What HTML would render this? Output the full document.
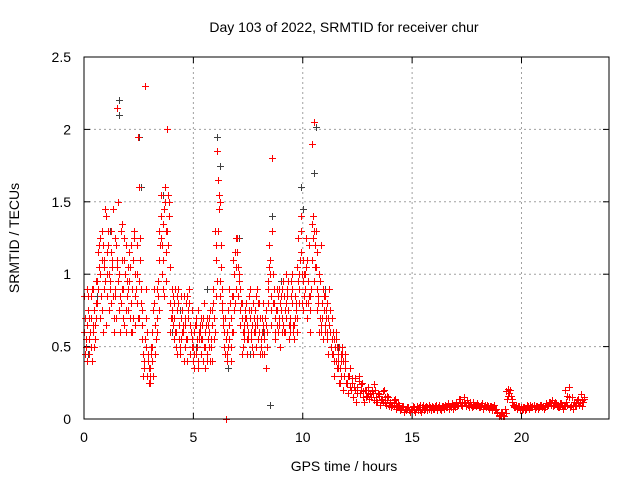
<!DOCTYPE html>
<html><head><meta charset="utf-8"><style>
body{margin:0;background:#fff;}
svg{display:block;font-family:"Liberation Sans",sans-serif;}
</style></head><body>
<svg id="chart" width="640" height="480" viewBox="0 0 640 480" xmlns="http://www.w3.org/2000/svg">
<rect width="640" height="480" fill="#fff"/>
<text x="344" y="32" font-size="14" text-anchor="middle">Day 103 of 2022, SRMTID for receiver chur</text>
<text x="344" y="471" font-size="14" text-anchor="middle">GPS time / hours</text>
<text transform="translate(19,238) rotate(-90)" font-size="14" text-anchor="middle">SRMTID / TECUs</text>
<g id="grid"></g>
<g id="ticks"></g>
<g id="black"></g>
<g id="red"></g>
<rect x="84" y="57" width="525" height="362" fill="none" stroke="#000" stroke-width="1"/>
</svg>
<script>
const xTicks=[0,5,10,15,20];
const yTicks=[0,0.5,1,1.5,2,2.5];
const yTickLabels=["0","0.5","1","1.5","2","2.5"];
const hours=[0.0,0.1,0.2,0.3,0.4,0.5,0.6,0.7,0.8,0.9,1.0,1.1,1.2,1.3,1.4,1.5,1.6,1.7,1.8,1.9,2.0,2.1,2.2,2.3,2.4,2.5,2.6,2.7,2.8,2.9,3.0,3.1,3.2,3.3,3.4,3.5,3.6,3.7,3.8,3.9,4.0,4.1,4.2,4.3,4.4,4.5,4.6,4.7,4.8,4.9,5.0,5.1,5.2,5.3,5.4,5.5,5.6,5.7,5.8,5.9,6.0,6.1,6.2,6.3,6.4,6.5,6.6,6.7,6.8,6.9,7.0,7.1,7.2,7.3,7.4,7.5,7.6,7.7,7.8,7.9,8.0,8.1,8.2,8.3,8.4,8.5,8.6,8.7,8.8,8.9,9.0,9.1,9.2,9.3,9.4,9.5,9.6,9.7,9.8,9.9,10.0,10.1,10.2,10.3,10.4,10.5,10.6,10.7,10.8,10.9,11.0,11.1,11.2,11.3,11.4,11.5,11.6,11.7,11.8,11.9,12.0,12.1,12.2,12.3,12.4,12.5,12.6,12.7,12.8,12.9,13.0,13.1,13.2,13.3,13.4,13.5,13.6,13.7,13.8,13.9,14.0,14.1,14.2,14.3,14.4,14.5,14.6,14.7,14.8,14.9,15.0,15.1,15.2,15.3,15.4,15.5,15.6,15.7,15.8,15.9,16.0,16.1,16.2,16.3,16.4,16.5,16.6,16.7,16.8,16.9,17.0,17.1,17.2,17.3,17.4,17.5,17.6,17.7,17.8,17.9,18.0,18.1,18.2,18.3,18.4,18.5,18.6,18.7,18.8,18.9,19.0,19.1,19.2,19.3,19.4,19.5,19.6,19.7,19.8,19.9,20.0,20.1,20.2,20.3,20.4,20.5,20.6,20.7,20.8,20.9,21.0,21.1,21.2,21.3,21.4,21.5,21.6,21.7,21.8,21.9,22.0,22.1,22.2,22.3,22.4,22.5,22.6,22.7,22.8];
const red1=[0.6,0.5,0.85,0.7,0.9,0.65,0.8,1.2,1.1,0.9,
1.4,1.3,0.95,1.1,1.25,2.15,1.0,0.8,0.9,1.2,
0.75,1.05,0.9,1.3,1.0,1.6,0.8,0.45,2.3,0.3,
0.35,0.6,0.8,0.55,0.95,1.4,1.1,1.6,2.0,1.5,
0.9,0.7,0.6,0.8,0.5,0.75,0.65,0.55,0.9,0.6,
0.5,0.7,0.4,0.65,0.55,0.8,0.45,0.6,0.5,0.9,
1.3,1.85,1.5,0.9,0.6,0.0,0.75,0.5,0.85,1.15,
1.25,1.0,0.7,0.55,0.8,0.6,0.9,0.5,0.75,0.65,
0.6,0.5,0.8,0.35,0.95,1.1,1.8,0.8,0.65,0.9,
0.75,0.95,0.6,0.85,0.7,1.0,0.55,0.8,1.25,1.4,
1.1,0.9,0.7,1.2,1.9,2.05,1.3,0.8,0.95,0.7,
0.85,0.6,0.9,0.5,0.45,0.6,0.4,0.35,0.5,0.3,
0.25,0.3,0.2,0.15,0.28,0.22,0.18,0.25,0.12,0.2,
0.22,0.15,0.18,0.2,0.12,0.17,0.14,0.2,0.1,0.15,
0.12,0.1,0.14,0.08,0.1,0.07,0.09,0.06,0.08,0.05,
0.07,0.06,0.09,0.08,0.05,0.1,0.07,0.06,0.08,0.09,
0.07,0.1,0.08,0.06,0.09,0.1,0.08,0.07,0.11,0.09,
0.12,0.1,0.14,0.09,0.11,0.13,0.08,0.1,0.12,0.09,
0.1,0.08,0.11,0.09,0.1,0.07,0.09,0.08,0.06,0.04,
0.03,0.05,0.02,0.19,0.21,0.16,0.1,0.08,0.07,0.09,
0.06,0.08,0.07,0.09,0.1,0.08,0.07,0.09,0.08,0.1,
0.09,0.11,0.1,0.12,0.13,0.1,0.09,0.08,0.11,0.07,
0.2,0.1,0.08,0.15,0.12,0.09,0.14,0.17,0.12];
const red2=[0.45,0.9,0.55,0.4,0.75,0.95,1.15,0.7,0.6,1.45,
0.85,1.0,1.3,0.6,0.7,1.5,0.85,1.1,0.65,0.95,
1.15,0.6,0.7,0.85,1.95,1.25,0.55,0.35,0.7,0.25,
0.5,0.75,0.45,0.9,1.3,1.2,0.85,1.3,1.55,1.05,
0.65,0.9,0.45,0.55,0.85,0.4,0.8,0.7,0.45,0.75,
0.35,0.55,0.6,0.45,0.7,0.35,0.65,0.4,0.75,0.55,
0.85,1.55,1.2,0.65,0.45,0.4,0.55,0.85,1.0,0.9,
0.85,0.75,0.5,0.7,0.45,0.85,0.6,0.7,0.5,0.8,
0.45,0.7,0.55,0.6,1.2,0.75,1.0,0.6,0.85,0.5,
0.9,0.6,0.8,0.55,0.95,0.65,0.85,1.05,0.9,0.8,
0.85,1.25,0.95,0.6,1.4,1.2,0.9,1.0,0.65,0.85,
0.7,0.45,0.75,0.55,0.3,0.5,0.25,0.4,0.2,0.35,
0.18,0.35,0.28,0.22,0.12,0.3,0.24,0.15,0.2,0.16,
0.14,0.2,0.24,0.12,0.18,0.1,0.19,0.11,0.16,0.09,
0.08,0.13,0.07,0.11,0.06,0.09,0.05,0.08,0.06,0.07,
0.09,0.05,0.06,0.1,0.08,0.06,0.09,0.1,0.06,0.07,
0.09,0.06,0.1,0.08,0.07,0.08,0.11,0.09,0.07,0.1,
0.09,0.14,0.1,0.15,0.09,0.1,0.12,0.08,0.1,0.11,
0.08,0.1,0.07,0.1,0.08,0.09,0.06,0.1,0.07,0.02,
0.05,0.02,0.07,0.14,0.18,0.12,0.08,0.1,0.09,0.06,
0.08,0.06,0.1,0.07,0.08,0.1,0.09,0.07,0.1,0.08,
0.07,0.09,0.12,0.1,0.09,0.12,0.08,0.11,0.09,0.1,
0.12,0.22,0.1,0.07,0.1,0.13,0.1,0.09,0.15];
const red3=[0.7,0.65,0.45,0.85,0.6,0.8,0.9,1.0,1.3,1.1,
1.0,0.75,1.15,0.85,0.9,1.05,0.6,1.35,1.1,0.75,
0.9,1.2,1.1,0.65,0.8,0.95,0.75,0.4,0.9,0.45,
0.25,0.4,0.65,0.7,1.1,1.55,1.35,0.95,1.2,0.8,
0.75,0.55,0.85,0.65,0.7,0.6,0.5,0.85,0.65,0.5,
0.6,0.45,0.75,0.55,0.4,0.6,0.7,0.5,0.65,0.7,
1.1,1.3,0.95,0.8,0.7,0.6,0.65,0.7,0.6,1.25,
1.05,0.65,0.8,0.6,0.65,0.75,0.55,0.8,0.6,0.7,
0.7,0.6,0.45,0.75,0.9,0.65,0.8,0.7,0.75,0.65,
0.6,0.85,0.7,0.95,0.65,0.8,0.7,0.6,1.0,1.15,
0.95,1.05,0.8,0.75,1.1,1.3,0.75,0.6,1.2,0.55,
0.6,0.8,0.6,0.7,0.55,0.4,0.45,0.3,0.4,0.45];
const red4=[0.55,0.75,0.6,0.9,0.5,0.7,1.05,0.85,1.2,0.95,
1.15,0.9,1.05,0.7,1.2,0.95,1.3,0.7,1.0,0.85,
0.95,0.8,1.25,0.9,0.7,1.1,0.65,0.55,0.6,0.35,
0.45,0.3,0.55,0.85,1.2,1.0,1.45,1.15,1.4,0.7,
0.85,0.6,0.75,0.45,0.6,0.85,0.55,0.75,0.6,0.4,
0.65,0.5,0.55,0.7,0.5,0.65,0.55,0.75,0.4,0.6,
0.95,1.45,1.05,0.7,0.55,0.5,0.8,0.6,0.75,1.05,
0.95,0.8,0.6,0.75,0.55,0.7,0.65,0.6,0.85,0.55,
0.55,0.65,0.7,0.5,1.05,0.85,0.9,0.75,0.6,0.8,
0.7,0.75,0.9,0.65,0.85,0.6,0.75,0.95,1.1,1.0,
1.0,0.8,0.85,0.9,1.25,1.05,1.15,0.7,0.8,0.75,
0.75,0.7,0.5,0.6,0.5,0.35,0.5,0.45,0.3,0.25,
0.3,0.22,0.25,0.2,0.18,0.26,0.2,0.19,0.15,0.18,
0.17,0.19,0.13,0.15,0.16,0.13,0.12,0.15,0.13,0.11,
0.1,0.09,0.11,0.1,0.07,0.08,0.07,0.07,0.06,0.07,
0.08,0.07,0.07,0.06,0.07,0.08,0.08,0.07,0.07,0.08,
0.08,0.08,0.07,0.09,0.08,0.09,0.09,0.08,0.09,0.08,
0.1,0.11,0.12,0.12,0.1,0.11,0.1,0.09,0.1,0.1,
0.09,0.09,0.09,0.08,0.09,0.08,0.08,0.07,0.05,0.03,
0.02,0.03,0.04,0.16,0.2,0.14,0.09,0.09,0.08,0.08,
0.07,0.07,0.08,0.08,0.09,0.09,0.08,0.08,0.09,0.09,
0.08,0.1,0.11,0.11,0.11,0.11,0.1,0.1,0.1,0.09,
0.16,0.15,0.09,0.1,0.11,0.11,0.12,0.13,0.14];
const red5=[0.85,0.4,0.7,0.5,0.65,0.55,0.95,1.25,0.75,1.05,
0.65,1.2,0.8,1.45,0.85,1.1,0.75,0.9,1.25,0.6,
1.05,0.7,0.6,1.0,1.2,0.7,0.9,0.3,0.5,0.4,
0.3,0.5,0.9,0.6,0.75,1.25,0.9,1.5,1.3,0.6,
0.7,0.8,0.5,0.9,0.55,0.65,0.7,0.4,0.8,0.55,
0.45,0.65,0.35,0.6,0.65,0.5,0.4,0.7,0.55,0.8,
1.2,1.65,0.85,0.75,0.5,0.45,0.9,0.4,1.1,0.8,
1.15,0.9,0.45,0.65,0.7,0.55,0.75,0.45,0.65,0.9,
0.8,0.45,0.6,0.65,0.8,1.0,1.3,0.55,0.9,0.7,
0.85,0.65,1.0,0.75,0.6,0.9,0.65,0.7,0.8,1.3,
0.75,1.0,1.1,0.85,1.35,0.95,1.05,0.85,0.6,0.9,
0.65,0.55,0.65,0.45,0.4,0.55,0.35,0.25,0.45,0.4];
const blackHours=[0.2,0.6,1.2,1.6,1.6,2.5,2.6,3.1,3.6,4.0,4.4,5.1,5.6,6.1,6.2,6.6,7.1,7.6,8.2,8.5,8.6,9.0,9.5,9.9,10.0,10.5,10.6,11.0,11.6];
const blackVals=[0.45,0.85,1.3,2.2,2.1,1.95,1.6,0.4,1.55,0.6,0.75,0.5,0.9,1.95,1.75,0.35,1.25,0.45,0.6,0.1,1.4,0.95,0.8,1.6,1.45,1.7,2.02,0.9,0.5];

const X0=84,X1=609,Y0=419,Y1=57,XMAX=24,YMAX=2.5;
function xs(v){return X0+(X1-X0)*v/XMAX;}
function ys(v){return Y0-(Y0-Y1)*v/YMAX;}
const NS="http://www.w3.org/2000/svg";
function mk(tag,attrs,parent){const e=document.createElementNS(NS,tag);for(const k in attrs)e.setAttribute(k,attrs[k]);parent.appendChild(e);return e;}
const grid=document.getElementById('grid'),ticks=document.getElementById('ticks');
xTicks.forEach((t,i)=>{
  const x=xs(t);
  if(t>0){const g=mk('line',{x1:x,y1:Y0,x2:x,y2:Y1,stroke:'#a0a0a0','stroke-dasharray':'2,3'},grid);
  
  }
  mk('line',{x1:x,y1:Y0,x2:x,y2:Y0-6,stroke:'#000'},ticks);
  mk('line',{x1:x,y1:Y1,x2:x,y2:Y1+6,stroke:'#000'},ticks);
  const tx=mk('text',{x:x,y:Y0+23,'font-size':14,'text-anchor':'middle'},ticks);
  tx.textContent=String(t);
  
  
});
yTicks.forEach((t,i)=>{
  const y=ys(t);
  if(t>0&&t<YMAX){const g=mk('line',{x1:X0,y1:y,x2:X1,y2:y,stroke:'#a0a0a0','stroke-dasharray':'2,3'},grid);
  
  }
  mk('line',{x1:X0,y1:y,x2:X0+6,y2:y,stroke:'#000'},ticks);
  mk('line',{x1:X1,y1:y,x2:X1-6,y2:y,stroke:'#000'},ticks);
  const tx=mk('text',{x:X0-13,y:y+5,'font-size':14,'text-anchor':'end'},ticks);
  tx.textContent=yTickLabels[i];
  
  
});
function plus(parent,h,v,color,name){
  const x=Math.round(xs(h))+0.5,y=Math.round(ys(v))+0.5;
  const p=mk('path',{d:`M${x-3.5},${y}H${x+3.5}M${x},${y-3.5}V${y+3.5}`,stroke:color,'stroke-width':1,fill:'none'},parent);
  
  
}
const red=document.getElementById('red'),black=document.getElementById('black');
blackHours.forEach((h,i)=>plus(black,h,blackVals[i],'#404040','black-point'));
hours.forEach((h,i)=>{
  plus(red,h,red1[i],'#ff0000','red-point');
  plus(red,h+0.05,red2[i],'#ff0000','red-point');
  plus(red,h+0.07,red4[i],'#ff0000','red-point');
  if(i<red3.length)plus(red,h+0.03,red3[i],'#ff0000','red-point');
  if(i<red5.length)plus(red,h+0.015,red5[i],'#ff0000','red-point');
});
</script>
</body></html>
